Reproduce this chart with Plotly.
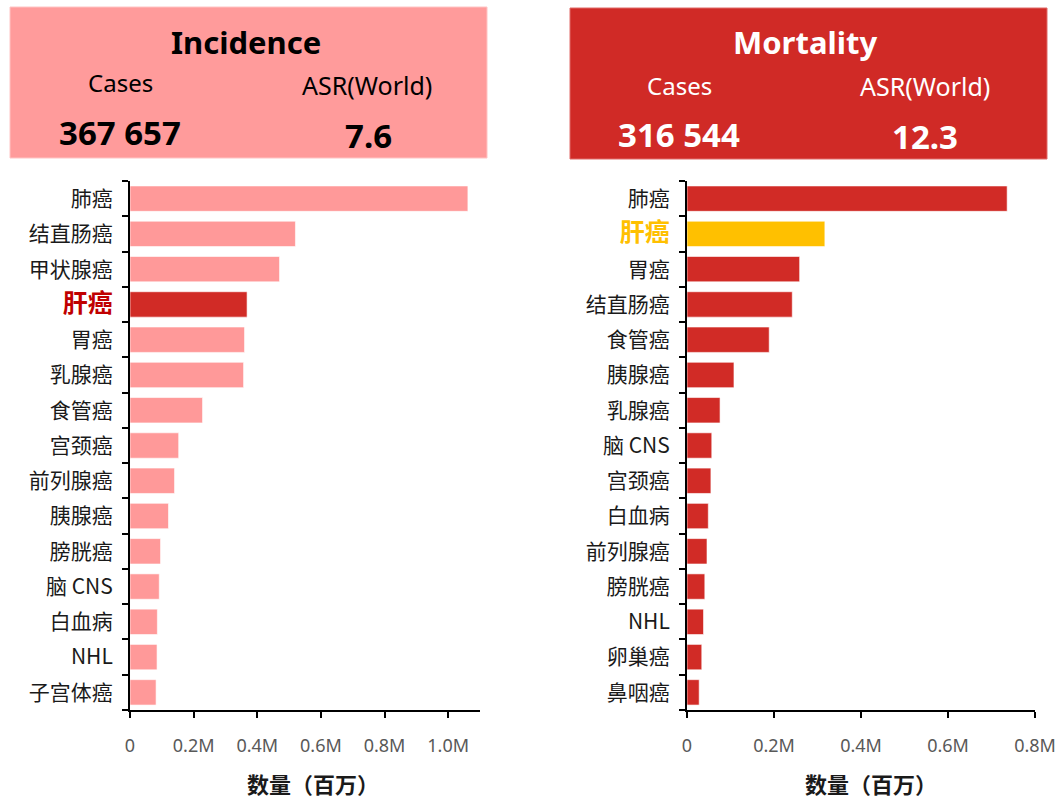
import plotly.graph_objects as go

# Incidence (left panel)
inc_labels = ["肺癌", "结直肠癌", "甲状腺癌", "肝癌", "胃癌", "乳腺癌", "食管癌", "宫颈癌",
              "前列腺癌", "胰腺癌", "膀胱癌", "脑 CNS", "白血病", "NHL", "子宫体癌"]
inc_values = [1.062, 0.520, 0.470, 0.368, 0.360, 0.357, 0.228, 0.153,
              0.140, 0.121, 0.096, 0.092, 0.086, 0.085, 0.082]

# Mortality (right panel)
mort_labels = ["肺癌", "肝癌", "胃癌", "结直肠癌", "食管癌", "胰腺癌", "乳腺癌", "脑 CNS",
               "宫颈癌", "白血病", "前列腺癌", "膀胱癌", "NHL", "卵巢癌", "鼻咽癌"]
mort_values = [0.736, 0.317, 0.259, 0.242, 0.189, 0.108, 0.076, 0.057,
               0.055, 0.049, 0.046, 0.041, 0.038, 0.034, 0.028]

inc_ticks = ["0", "0.2M", "0.4M", "0.6M", "0.8M", "1.0M"]
mort_ticks = ["0", "0.2M", "0.4M", "0.6M", "0.8M"]

highlight = "肝癌"

W, H = 1060, 802
FONT = "Noto Sans, Noto Sans CJK SC, sans-serif"
CJK = "Noto Sans CJK SC, sans-serif"


def px(x):
    return x / W


def py(y):
    return 1 - y / H


def tick_text(labels, color):
    out = []
    for lab in labels:
        if lab == highlight:
            out.append(f"<b><span style='color:{color};font-size:25px'>{lab}</span></b>")
        else:
            out.append(lab)
    return out


fig = go.Figure()

fig.add_trace(go.Bar(
    y=inc_labels, x=inc_values, orientation="h", width=0.72,
    marker=dict(color=["#D12B26" if l == highlight else "#FF9999" for l in inc_labels],
                line=dict(color="rgba(255,255,255,0.6)", width=1)),
    xaxis="x", yaxis="y", showlegend=False,
))
fig.add_trace(go.Bar(
    y=mort_labels, x=mort_values, orientation="h", width=0.72,
    marker=dict(color=["#FFC000" if l == highlight else "#D12B26" for l in mort_labels],
                line=dict(color="rgba(255,255,255,0.6)", width=1)),
    xaxis="x2", yaxis="y2", showlegend=False,
))

# automargin off: otherwise the template pushes the margins and squeezes everything
xax = dict(automargin=False, showgrid=False, zeroline=False, showline=True,
           linecolor="#000", linewidth=2, ticks="outside", ticklen=6, tickwidth=2,
           tickcolor="#000", ticklabelstandoff=12,
           tickfont=dict(family=FONT, size=18, color="#595959"))
yax = dict(automargin=False, type="category", autorange="reversed", showgrid=False,
           showline=True, linecolor="#000", linewidth=2, ticks="outside", ticklen=6,
           tickwidth=2, tickcolor="#000", tickson="boundaries", ticklabelstandoff=11,
           tickfont=dict(family=CJK, size=21, color="#1a1a1a"))

fig.update_layout(
    width=W, height=H, autosize=False,
    margin=dict(l=0, r=0, t=0, b=0),
    paper_bgcolor="white", plot_bgcolor="white",
    xaxis=dict(xax, domain=[px(130), px(480)], range=[0, 1.1],
               tickvals=[0, 0.2, 0.4, 0.6, 0.8, 1.0], ticktext=inc_ticks, anchor="y"),
    yaxis=dict(yax, domain=[py(710), py(181)], anchor="x",
               tickvals=inc_labels, ticktext=tick_text(inc_labels, "#C00000")),
    xaxis2=dict(xax, domain=[px(687), px(1035)], range=[0, 0.8],
                tickvals=[0, 0.2, 0.4, 0.6, 0.8], ticktext=mort_ticks, anchor="y2"),
    yaxis2=dict(yax, domain=[py(710), py(181)], anchor="x2",
                tickvals=mort_labels, ticktext=tick_text(mort_labels, "#FFC000")),
)

# header boxes
fig.add_shape(type="rect", xref="paper", yref="paper",
              x0=px(10), x1=px(487), y0=py(158), y1=py(7),
              fillcolor="#FF9B9B", line=dict(color="#FFC4C4", width=1), layer="below")
fig.add_shape(type="rect", xref="paper", yref="paper",
              x0=px(570), x1=px(1047), y0=py(159), y1=py(8),
              fillcolor="#D02A26", line=dict(color="#E06B68", width=1), layer="below")


def note(text, x, y, size, color, bold=False, family=FONT):
    if bold:
        text = f"<b>{text}</b>"
    fig.add_annotation(text=text, x=px(x), y=py(y), xref="paper", yref="paper",
                       xanchor="center", yanchor="middle", showarrow=False,
                       font=dict(family=family, size=size, color=color))


note("Incidence", 246, 42, 31, "#000", True)
note("Cases", 120, 83, 24, "#000")
note("ASR(World)", 367, 85, 25, "#000")
note("367 657", 120, 133, 33, "#000", True)
note("7.6", 368, 135, 33, "#000", True)

note("Mortality", 805, 42, 31, "#fff", True)
note("Cases", 679, 85, 24, "#fff")
note("ASR(World)", 925, 86, 25, "#fff")
note("316 544", 679, 134, 33, "#fff", True)
note("12.3", 925, 136, 33, "#fff", True)

note("数量（百万）", 313, 783, 22, "#1a1a1a", True, CJK)
note("数量（百万）", 871, 783, 22, "#1a1a1a", True, CJK)

# drop the default body margin so the 1060x802 figure fills the window exactly
fig.write_html("out.html",
               config={"displayModeBar": False, "responsive": False},
               post_script="document.body.style.margin='0';document.body.style.overflow='hidden';")
